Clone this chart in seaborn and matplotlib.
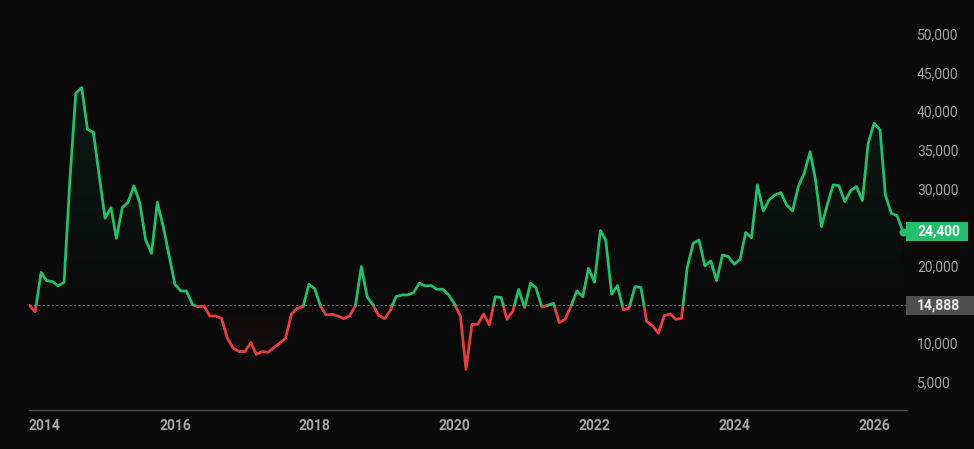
import matplotlib
matplotlib.use("Agg")
import matplotlib.pyplot as plt
import matplotlib.dates as mdates
import matplotlib.transforms as mtransforms
from matplotlib.colors import to_rgb
from matplotlib.patches import Rectangle
from matplotlib.ticker import FuncFormatter, MultipleLocator
import numpy as np
import pandas as pd
import seaborn as sns

# monthly values, Dec 2013 .. Jun 2026
start_month = "2013-12-01"
values = [
    14888, 14060, 19150, 18075, 17950, 17390, 17860, 31000, 42320, 43050,
    37660, 37270, 31750, 26140, 27520, 23550, 27520, 28210, 30330, 28170,
    23340, 21610, 28210, 25060, 21400, 17600, 16740, 16740, 15010, 14670,
    14800, 13500, 13500, 13160, 10610, 9320, 8890, 8890, 10050, 8540,
    8890, 8800, 9400, 9970, 10610, 13760, 14490, 14710, 17600, 17000,
    14710, 13630, 13720, 13500, 13160, 13500, 14800, 19890, 16000, 14930,
    13550, 13160, 14280, 16000, 16220, 16220, 16520, 17730, 17390, 17430,
    16950, 16950, 16220, 15060, 13420, 6600, 12420, 12420, 13760, 12340,
    15960, 15880, 13070, 14150, 16950, 14580, 17730, 17170, 14670, 14880,
    15140, 12640, 13070, 14800, 16740, 16000, 19670, 17860, 24550, 23340,
    16310, 17430, 14280, 14500, 17300, 17170, 12770, 12210, 11260, 13550,
    13760, 13070, 13200, 19800, 22910, 23340, 19980, 20620, 18080, 21400,
    21180, 20190, 20840, 24290, 23640, 30460, 27090, 28520, 29160, 29460,
    27870, 27090, 30240, 31970, 34770, 31110, 25060, 27870, 30460, 30370,
    28300, 29720, 30240, 28430, 35850, 38440, 37570, 29160, 26790, 26490,
    24400,
]
baseline = 14888
year_ticks = [2014, 2016, 2018, 2020, 2022, 2024, 2026]

GREEN = "#22bf6c"
RED = "#e5403f"
BG = "#0a0a0a"

dates = pd.date_range(start_month, periods=len(values), freq="MS")
xs = mdates.date2num(dates)
vs = np.array(values, dtype=float)

# insert baseline crossings so the colour switches exactly at the baseline
px, pv = [xs[0]], [vs[0]]
for i in range(len(vs) - 1):
    a, b = vs[i] - baseline, vs[i + 1] - baseline
    if a * b < 0:
        t = -a / (b - a)
        px.append(xs[i] + t * (xs[i + 1] - xs[i]))
        pv.append(baseline)
    px.append(xs[i + 1])
    pv.append(vs[i + 1])
px, pv = np.array(px), np.array(pv)

rows = []
seg = -1
prev_side = None
for i in range(len(px) - 1):
    side = "up" if (pv[i] + pv[i + 1]) / 2 >= baseline else "down"
    if side != prev_side:
        seg += 1
        rows.append((seg, side, px[i], pv[i]))
        prev_side = side
    rows.append((seg, side, px[i + 1], pv[i + 1]))
line_df = pd.DataFrame(rows, columns=["seg", "side", "x", "value"])

sns.set_style("dark")
plt.rcParams["font.family"] = ["Roboto", "DejaVu Sans"]

fig = plt.figure(figsize=(9.74, 4.49), dpi=100, facecolor=BG)
ax = fig.add_axes([28.5 / 974, 39 / 449, 878.5 / 974, 390 / 449])
ax.set_facecolor(BG)

ylo, yhi = 1330, 51800
xlo, xhi = xs[0] - 4, xs[-1] + 21


def gradient_fill(lower, upper, color, far, alpha_far):
    poly = ax.fill_between(px, lower, upper, facecolor="none", edgecolor="none")
    path = poly.get_paths()[0]
    grad = np.zeros((256, 1, 4))
    grad[:, :, :3] = to_rgb(color)
    if far > baseline:
        grad[:, 0, 3] = np.linspace(0, alpha_far, 256)
        ext = [px[0], px[-1], baseline, far]
    else:
        grad[:, 0, 3] = np.linspace(alpha_far, 0, 256)
        ext = [px[0], px[-1], far, baseline]
    im = ax.imshow(grad, extent=ext, origin="lower", aspect="auto", zorder=1,
                   interpolation="bilinear")
    im.set_clip_path(path, transform=ax.transData)


gradient_fill(np.full_like(pv, baseline), np.maximum(pv, baseline), GREEN, vs.max(), 0.10)
gradient_fill(np.minimum(pv, baseline), np.full_like(pv, baseline), RED, vs.min(), 0.09)

ax.axhline(baseline, color="#6a6a6a", lw=0.8, ls=(0, (2, 2)), zorder=2)

sns.lineplot(data=line_df, x="x", y="value", hue="side", units="seg",
             estimator=None, sort=False, palette={"up": GREEN, "down": RED},
             linewidth=2.0, legend=False, ax=ax, zorder=3)
ax.scatter([xs[-1]], [vs[-1]], s=34, color=GREEN, zorder=4, linewidths=0)

ax.set_xlim(xlo, xhi)
ax.set_ylim(ylo, yhi)
ax.set_xlabel("")
ax.set_ylabel("")
ax.grid(False)

for s in ["top", "left", "right"]:
    ax.spines[s].set_visible(False)
ax.spines["bottom"].set_color("#4d4d4d")
ax.spines["bottom"].set_linewidth(1)

ax.yaxis.tick_right()
ax.yaxis.set_major_locator(MultipleLocator(5000))
ax.yaxis.set_major_formatter(FuncFormatter(lambda v, p: f"{int(v):,}"))
ax.tick_params(axis="y", length=0, pad=7.2, labelsize=10, labelcolor="#a3a3a3")

tick_pos = mdates.date2num([pd.Timestamp(f"{y}-01-01") for y in year_ticks])
ax.set_xticks(tick_pos, [str(y) for y in year_ticks])
ax.tick_params(axis="x", length=0, pad=6.5, labelsize=10, labelcolor="#a8a8a8")
for lab in ax.get_xticklabels():
    lab.set_fontweight("bold")
first = ax.get_xticklabels()[0]
first.set_horizontalalignment("left")
first.set_transform(first.get_transform() +
                    mtransforms.ScaledTranslation(-6.5 / 100, 0, fig.dpi_scale_trans))

# value badges on the right
trans = mtransforms.blended_transform_factory(ax.transAxes, ax.transData)
ax_w = 878.5
per_px = (yhi - ylo) / 390
for val, label, face, right_px, txt in [
    (vs[-1], "24,400", GREEN, 968, "#ffffff"),
    (baseline, "14,888", "#4f4f4f", 974, "#ececec"),
]:
    x0 = (906 - 28.5) / ax_w
    w = (right_px - 906) / ax_w
    ax.add_patch(Rectangle((x0, val - 9.5 * per_px), w, 19 * per_px, transform=trans,
                           facecolor=face, edgecolor="none", clip_on=False, zorder=6))
    ax.text((917 - 28.5) / ax_w, val, label, transform=trans, ha="left", va="center",
            fontsize=10, fontweight="bold", color=txt, zorder=7, clip_on=False)

fig.savefig("out.png", dpi=100, facecolor=BG)
